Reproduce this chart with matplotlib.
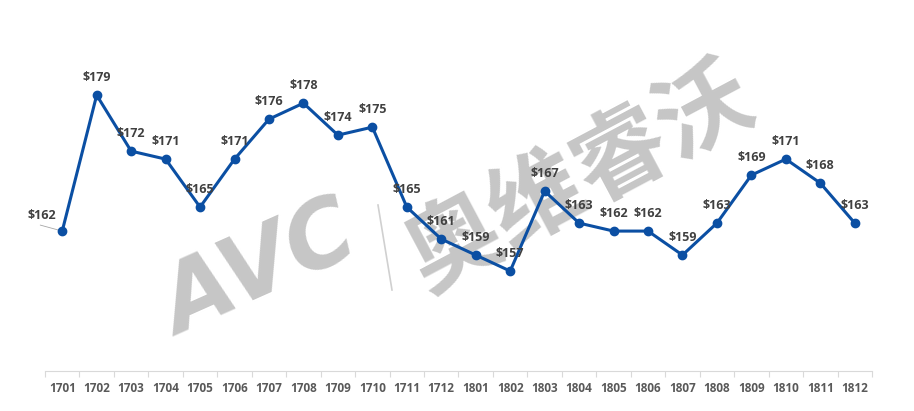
import matplotlib.pyplot as plt
from matplotlib.lines import Line2D
from matplotlib.ticker import FixedLocator

# ── Data ──────────────────────────────────────────────────────────────────────
months = ["1701", "1702", "1703", "1704", "1705", "1706", "1707", "1708",
          "1709", "1710", "1711", "1712", "1801", "1802", "1803", "1804",
          "1805", "1806", "1807", "1808", "1809", "1810", "1811", "1812"]
prices = [162, 179, 172, 171, 165, 171, 176, 178,
          174, 175, 165, 161, 159, 157, 167, 163,
          162, 162, 159, 163, 169, 171, 168, 163]

LINE_COLOR = "#0b4fa3"
LABEL_COLOR = "#404040"
AXIS_COLOR = "#d9d9d9"
WM_COLOR = "#c6c6c6"

fig = plt.figure(figsize=(9.14, 4.11), dpi=100)
fig.patch.set_facecolor("white")
ax = fig.add_axes([45 / 914, 40 / 411, 827 / 914, 351 / 411])

x = list(range(len(months)))

# ── Watermark (behind everything) ─────────────────────────────────────────────
ax.text(0.285, 0.34, "AVC", fontsize=66, fontweight="bold", style="italic",
        color=WM_COLOR, rotation=24, ha="center", va="center",
        family="DejaVu Sans", transform=fig.transFigure, zorder=0)
fig.add_artist(Line2D([378 / 914, 392 / 914], [1 - 205 / 411, 1 - 290 / 411],
                      transform=fig.transFigure, color="#d0d0d0", lw=1.2,
                      zorder=0))
ax.text(0.635, 0.565, "奥维睿沃", fontsize=68, fontweight="bold",
        color=WM_COLOR, rotation=28, ha="center", va="center",
        family=["Noto Sans CJK SC", "DejaVu Sans"],
        transform=fig.transFigure, zorder=0)

# ── Line ──────────────────────────────────────────────────────────────────────
ax.plot(x, prices, color=LINE_COLOR, linewidth=2.2, marker="o",
        markersize=6, zorder=3)

for i, v in enumerate(prices):
    dx, dy = (-20, 16) if i == 0 else (0, 18)
    ax.annotate(f"${v}", xy=(i, v), xytext=(dx, dy),
                textcoords="offset pixels", ha="center", va="center",
                fontsize=9, fontweight="bold", color=LABEL_COLOR,
                family="Open Sans", zorder=4)

# leader line for the first label
ax.annotate("", xy=(0, prices[0]), xytext=(-22, 6), textcoords="offset pixels",
            arrowprops=dict(arrowstyle="-", color="#a6a6a6", lw=0.6,
                            shrinkA=0, shrinkB=3), zorder=2)

# ── Axes styling ──────────────────────────────────────────────────────────────
ax.set_xlim(-0.5, len(months) - 0.5)
ax.set_ylim(144.5, 188.4)
ax.set_yticks([])
ax.set_xticks(x)
ax.set_xticklabels(months, fontsize=8.5, fontweight="bold", color="#595959",
                   family="Open Sans")
ax.tick_params(axis="x", which="major", length=0, pad=8)
ax.xaxis.set_minor_locator(FixedLocator([i - 0.5 for i in range(len(months) + 1)]))
ax.tick_params(axis="x", which="minor", length=4, color=AXIS_COLOR, width=0.8)

for side in ("top", "right", "left"):
    ax.spines[side].set_visible(False)
ax.spines["bottom"].set_color(AXIS_COLOR)
ax.spines["bottom"].set_linewidth(0.8)
ax.patch.set_alpha(0)

fig.savefig("out.png", dpi=100, facecolor="white")
